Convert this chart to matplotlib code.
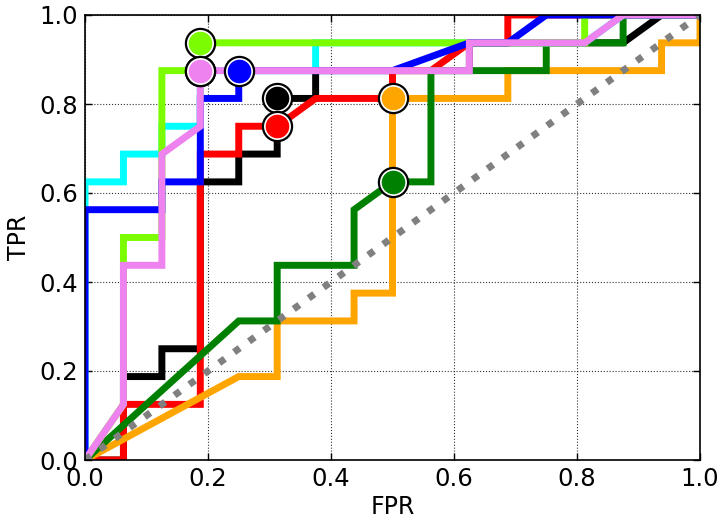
import matplotlib
matplotlib.use("Agg")
import matplotlib.pyplot as plt

N_NEG = 16.0
N_POS = 16.0

# ROC curves as (false-positive count, true-positive count) out of 16 / 16
black_fp = [0, 1, 1, 2, 2, 3, 3, 4, 4, 5, 5, 6, 6, 10, 10, 14, 15, 16]
black_tp = [0, 0, 3, 3, 4, 4, 10, 10, 11, 11, 13, 13, 14, 14, 15, 15, 16, 16]

red_fp = [0, 1, 1, 3, 3, 4, 4, 5, 6, 8, 8, 9, 10, 11, 11, 16]
red_tp = [0, 0, 2, 2, 11, 11, 12, 12, 13, 13, 14, 14, 15, 15, 16, 16]

orange_fp = [0, 4, 5, 5, 7, 7, 8, 8, 11, 11, 15, 15, 16, 16]
orange_tp = [0, 3, 3, 5, 5, 6, 6, 13, 13, 14, 14, 15, 15, 16]

green_fp = [0, 4, 5, 5, 7, 7, 8, 9, 9, 12, 12, 14, 14, 16]
green_tp = [0, 5, 5, 7, 7, 9, 10, 10, 14, 14, 15, 15, 16, 16]

cyan_fp = [0, 0, 1, 1, 2, 2, 3, 3, 6, 6, 13, 14, 16]
cyan_tp = [0, 10, 10, 11, 11, 12, 12, 14, 14, 15, 15, 16, 16]

lawn_fp = [0, 1, 1, 2, 2, 3, 3, 13, 13, 16]
lawn_tp = [0, 2, 8, 8, 14, 14, 15, 15, 16, 16]

blue_fp = [0, 0, 2, 2, 3, 3, 4, 4, 8, 10, 11, 12, 16]
blue_tp = [0, 9, 9, 10, 10, 13, 13, 14, 14, 15, 15, 16, 16]

violet_fp = [0, 1, 1, 2, 2, 3, 3, 10, 10, 13, 14, 16]
violet_tp = [0, 2, 7, 7, 11, 12, 14, 14, 15, 15, 16, 16]

# operating points (fp, tp)
op_black = (5, 13)
op_red = (5, 12)
op_orange = (8, 13)
op_green = (8, 10)
op_cyan = (3, 14)
op_lawn = (3, 15)
op_blue = (4, 14)
op_violet = (3, 14)

curves = [
    ("black", black_fp, black_tp, op_black),
    ("red", red_fp, red_tp, op_red),
    ("orange", orange_fp, orange_tp, op_orange),
    ("green", green_fp, green_tp, op_green),
    ("cyan", cyan_fp, cyan_tp, op_cyan),
    ("lawngreen", lawn_fp, lawn_tp, op_lawn),
    ("blue", blue_fp, blue_tp, op_blue),
    ("violet", violet_fp, violet_tp, op_violet),
]

ticks = [0.0, 0.2, 0.4, 0.6, 0.8, 1.0]
tick_labels = ["0.0", "0.2", "0.4", "0.6", "0.8", "1.0"]

fig = plt.figure(figsize=(7.21, 5.21), dpi=100)
ax = fig.add_axes([85 / 721, 61 / 521, 615 / 721, 445 / 521])

for i, (c, fp, tp, op) in enumerate(curves):
    ax.plot([v / N_NEG for v in fp], [v / N_POS for v in tp], color=c, lw=5,
            solid_joinstyle="miter", solid_capstyle="projecting", zorder=2 + i * 0.01)

ax.plot([0, 1], [0, 1], color="gray", lw=5, linestyle=":", zorder=2.5)

marker_order = ["black", "red", "orange", "green", "cyan", "lawngreen", "blue", "violet"]
for j, name in enumerate(marker_order):
    for c, fp, tp, op in curves:
        if c == name:
            x, y = op[0] / N_NEG, op[1] / N_POS
            ax.plot([x], [y], "o", ms=21, mfc="white", mec="black", mew=1.6,
                    zorder=3 + j * 0.01, clip_on=False)
            ax.plot([x], [y], "o", ms=17, mfc=c, mec="none",
                    zorder=3.005 + j * 0.01, clip_on=False)

ax.set_xlim(0, 1)
ax.set_ylim(0, 1)
ax.set_xticks(ticks)
ax.set_xticklabels(tick_labels)
ax.set_yticks(ticks)
ax.set_yticklabels(tick_labels)
ax.tick_params(direction="in", top=True, right=True, length=5, width=1,
               labelsize=17.5, pad=5)
ax.grid(True, color="black", linestyle=":", lw=0.8, alpha=0.8)
for s in ax.spines.values():
    s.set_linewidth(1.2)
    s.set_zorder(5)
ax.set_xlabel("FPR", fontsize=17, labelpad=3)
ax.set_ylabel("TPR", fontsize=17, labelpad=6)

fig.savefig("out.png", dpi=100)
